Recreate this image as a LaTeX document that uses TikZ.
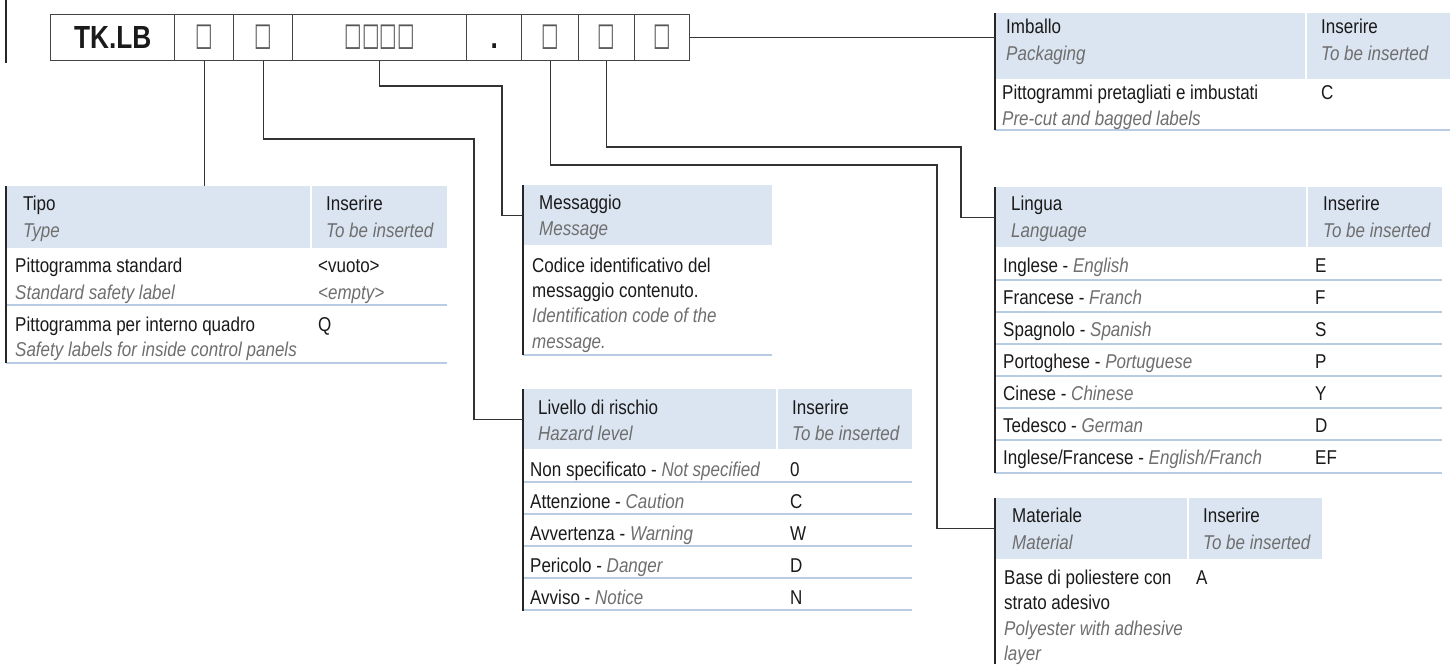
\documentclass[tikz,border=0pt]{standalone}
\usepackage{fontspec}
\setmainfont{Liberation Sans}[FakeStretch=0.85]
\newfontfamily\codefont{Liberation Sans}[FakeStretch=0.82]
\newfontfamily\symfont{DejaVu Sans}[FakeStretch=0.58]
\definecolor{hdrc}{HTML}{DBE5F1}
\definecolor{sepc}{HTML}{B8CCE4}
\definecolor{engray}{HTML}{6E6E6E}
\definecolor{txtc}{HTML}{1A1A1A}
\definecolor{connc}{HTML}{333333}
\definecolor{brdc}{HTML}{262626}
\definecolor{boxc}{HTML}{444444}
\definecolor{sqc}{HTML}{555555}
\newcommand{\bodyf}{\fontsize{20}{26}\selectfont}
\newcommand{\en}[1]{\textcolor{engray}{\itshape #1}}
\begin{document}
\begin{tikzpicture}[x=1pt,y=-1pt,
  conn/.style={draw=connc, line width=1.3pt},
  brd/.style={draw=brdc, line width=2.8pt},
  sepl/.style={draw=sepc, line width=1.4pt},
  hdr/.style={fill=hdrc, draw=none, anchor=north west, inner sep=0pt},
  cellbox/.style={draw=boxc, line width=1.3pt, anchor=north west, minimum height=46pt, inner sep=0pt},
  sq/.style={text=sqc, font=\symfont\fontsize{32}{32}\selectfont},
  tI/.style={anchor=base west, inner sep=0pt, text=txtc, font=\bodyf},
  tE/.style={anchor=base west, inner sep=0pt, text=engray, font=\bodyf\itshape}]
\useasboundingbox (0,0) rectangle (1450,664);

% left bar
\draw[brdc, line width=2.5pt] (6,0) -- (6,63);

% code box
\node[cellbox, minimum width=124pt, font=\codefont\bfseries\fontsize{32}{32}\selectfont, text=txtc] (c0) at (50,14) {TK.LB};
\node[cellbox, minimum width=59pt, sq] (c1) at (174,14) {□};
\node[cellbox, minimum width=59pt, sq] (c2) at (233,14) {□};
\node[cellbox, minimum width=174pt, sq] (c3) at (292,14) {□□□□};
\node[cellbox, minimum width=55pt] (c4) at (466,14) {};
\node[anchor=base, inner sep=0pt, font=\codefont\bfseries\fontsize{32}{32}\selectfont, text=txtc] (dot) at (c4.center |- 0,48) {.};
\node[cellbox, minimum width=57pt, sq] (c5) at (521,14) {□};
\node[cellbox, minimum width=56pt, sq] (c6) at (578,14) {□};
\node[cellbox, minimum width=55pt, sq] (c7) at (634,14) {□};

% ---------- headers ----------
\node[hdr, minimum width=304pt, minimum height=62pt] (tipoH) at (6,186) {};
\node[hdr, minimum width=135pt, minimum height=62pt] (tipoH2) at (312,186) {};
\node[hdr, minimum width=249pt, minimum height=60pt] (msgH) at (523,185) {};
\node[hdr, minimum width=253pt, minimum height=60pt] (livH) at (523,389) {};
\node[hdr, minimum width=134pt, minimum height=60pt] (livH2) at (778,389) {};
\node[hdr, minimum width=311pt, minimum height=60pt] (linH) at (995,187) {};
\node[hdr, minimum width=134pt, minimum height=60pt] (linH2) at (1308,187) {};
\node[hdr, minimum width=310pt, minimum height=66pt] (imbH) at (995,13) {};
\node[hdr, minimum width=143pt, minimum height=66pt] (imbH2) at (1307,13) {};
\node[hdr, minimum width=192pt, minimum height=61pt] (matH) at (995,498) {};
\node[hdr, minimum width=133pt, minimum height=61pt] (matH2) at (1189,498) {};

% ---------- separators ----------
\foreach \y in {305,363} \draw[sepl] (6,\y) -- (447,\y);
\draw[sepl] (523,355) -- (772,355);
\foreach \y in {482,514,546,578,610} \draw[sepl] (523,\y) -- (912,\y);
\foreach \y in {280,312,344,376,408,440,473} \draw[sepl] (995,\y) -- (1442,\y);
\draw[sepl] (995,130) -- (1450,130);

% ---------- left borders ----------
\draw[brd] (tipoH.north west) -- (6,363);
\draw[brd] (msgH.north west) -- (523,355);
\draw[brd] (livH.north west) -- (523,611);
\draw[brd] (linH.north west) -- (995,473);
\draw[brd] (imbH.north west) -- (995,130);
\draw[brd] (matH.north west) -- (995,664);

% ---------- connectors ----------
\draw[conn] (c1.south) -- (c1.south |- tipoH.north);
\draw[conn] (c2.south) |- (474,139) |- (livH.west);
\draw[conn] (c3.south) |- (502,86) |- (msgH.west);
\draw[conn] (c5.south) |- (937,165) |- (matH.west);
\draw[conn] (c6.south) |- (961,147) |- (linH.west);
\draw[conn] (c7.east) -- (c7.east -| imbH.west);

% ---------- Tipo ----------
\node[tI] (tipo1) at (23,210) {Tipo};
\node[tE] (tipo2) at (23,237) {Type};
\node[tI] (tipo3) at (326,210) {Inserire};
\node[tE] (tipo4) at (326,237) {To be inserted};
\node[tI] (tipo5) at (15,272) {Pittogramma standard};
\node[tE] (tipo6) at (15,299) {Standard safety label};
\node[tI] (tipo7) at (318,272) {<vuoto>};
\node[tE] (tipo8) at (318,299) {<empty>};
\node[tI] (tipo9) at (15,331) {Pittogramma per interno quadro};
\node[tE] (tipo10) at (15,356) {Safety labels for inside control panels};
\node[tI] (tipo11) at (318,331) {Q};

% ---------- Messaggio ----------
\node[tI] (msg1) at (539,209) {Messaggio};
\node[tE] (msg2) at (539,235) {Message};
\node[tI] (msg3) at (532,272) {Codice identificativo del};
\node[tI] (msg4) at (532,297) {messaggio contenuto.};
\node[tE] (msg5) at (532,322) {Identification code of the};
\node[tE] (msg6) at (532,348) {message.};

% ---------- Livello ----------
\node[tI] (liv1) at (538,414) {Livello di rischio};
\node[tE] (liv2) at (538,440) {Hazard level};
\node[tI] (liv3) at (792,414) {Inserire};
\node[tE] (liv4) at (792,440) {To be inserted};
\node[tI] (liv5) at (530,476) {Non specificato - \en{Not specified}};
\node[tI] (liv6) at (790,476) {0};
\node[tI] (liv7) at (530,508) {Attenzione - \en{Caution}};
\node[tI] (liv8) at (790,508) {C};
\node[tI] (liv9) at (530,540) {Avvertenza - \en{Warning}};
\node[tI] (liv10) at (790,540) {W};
\node[tI] (liv11) at (530,572) {Pericolo - \en{Danger}};
\node[tI] (liv12) at (790,572) {D};
\node[tI] (liv13) at (530,604) {Avviso - \en{Notice}};
\node[tI] (liv14) at (790,604) {N};

% ---------- Lingua ----------
\node[tI] (lin1) at (1011,210) {Lingua};
\node[tE] (lin2) at (1011,237) {Language};
\node[tI] (lin3) at (1323,210) {Inserire};
\node[tE] (lin4) at (1323,237) {To be inserted};
\node[tI] (lin5) at (1003,272) {Inglese - \en{English}};
\node[tI] (lin6) at (1315,272) {E};
\node[tI] (lin7) at (1003,304) {Francese - \en{Franch}};
\node[tI] (lin8) at (1315,304) {F};
\node[tI] (lin9) at (1003,336) {Spagnolo - \en{Spanish}};
\node[tI] (lin10) at (1315,336) {S};
\node[tI] (lin11) at (1003,368) {Portoghese - \en{Portuguese}};
\node[tI] (lin12) at (1315,368) {P};
\node[tI] (lin13) at (1003,400) {Cinese - \en{Chinese}};
\node[tI] (lin14) at (1315,400) {Y};
\node[tI] (lin15) at (1003,432) {Tedesco - \en{German}};
\node[tI] (lin16) at (1315,432) {D};
\node[tI] (lin17) at (1003,464) {Inglese/Francese - \en{English/Franch}};
\node[tI] (lin18) at (1315,464) {EF};

% ---------- Imballo ----------
\node[tI] (imb1) at (1006,33) {Imballo};
\node[tE] (imb2) at (1006,60) {Packaging};
\node[tI] (imb3) at (1321,33) {Inserire};
\node[tE] (imb4) at (1321,60) {To be inserted};
\node[tI] (imb5) at (1002,99) {Pittogrammi pretagliati e imbustati};
\node[tE] (imb6) at (1002,125) {Pre-cut and bagged labels};
\node[tI] (imb7) at (1321,99) {C};

% ---------- Materiale ----------
\node[tI] (mat1) at (1012,522) {Materiale};
\node[tE] (mat2) at (1012,549) {Material};
\node[tI] (mat3) at (1203,522) {Inserire};
\node[tE] (mat4) at (1203,549) {To be inserted};
\node[tI] (mat5) at (1004,584) {Base di poliestere con};
\node[tI] (mat6) at (1004,609) {strato adesivo};
\node[tE] (mat7) at (1004,635) {Polyester with adhesive};
\node[tE] (mat8) at (1004,660) {layer};
\node[tI] (mat9) at (1196,584) {A};
\end{tikzpicture}
\end{document}
